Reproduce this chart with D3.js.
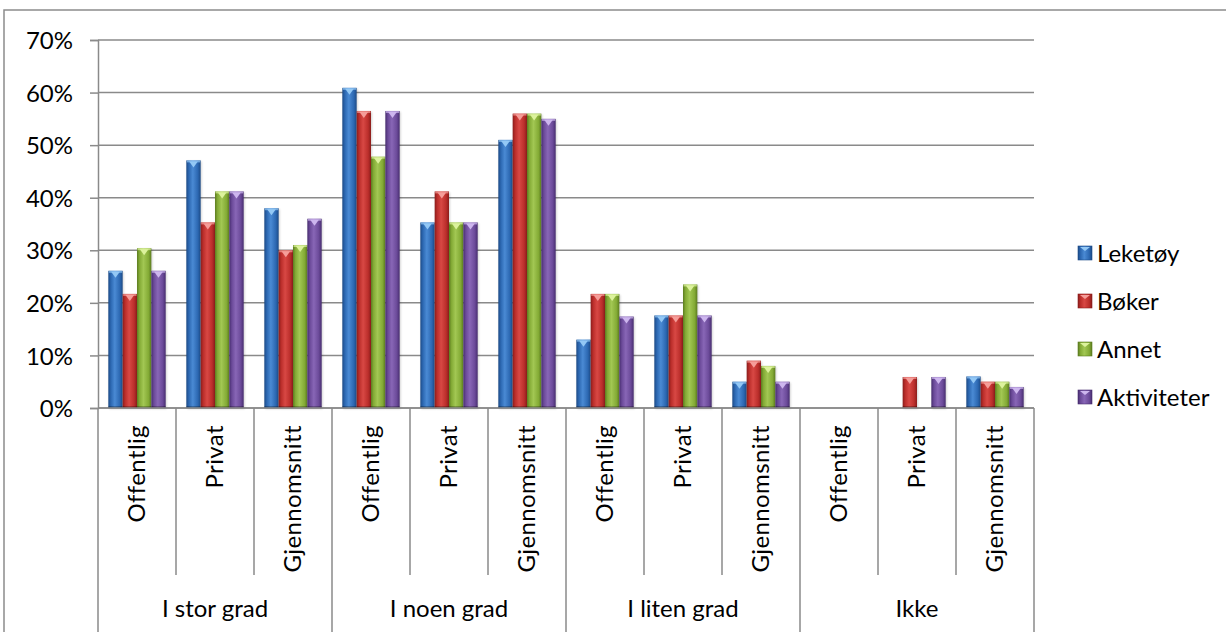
<!DOCTYPE html>
<html>
<head>
<meta charset="utf-8">
<script src="https://cdn.jsdelivr.net/npm/d3@7"></script>
<style>
  html, body { margin: 0; padding: 0; background: #fff; }
  svg { display: block; }
  text { font-family: Lato, "Open Sans", sans-serif; fill: #000; }
</style>
</head>
<body>
<svg id="chart" width="1226" height="632"></svg>
<script>
// Response groups and sub-categories
const groups = ["I stor grad", "I noen grad", "I liten grad", "Ikke"];
const subgroups = ["Offentlig", "Privat", "Gjennomsnitt"];
const seriesNames = ["Leketøy", "Bøker", "Annet", "Aktiviteter"];
const yTicks = [0, 0.1, 0.2, 0.3, 0.4, 0.5, 0.6, 0.7];

// Shares per series, in order: for each group, Offentlig / Privat / Gjennomsnitt
const leketoy     = [0.261, 0.471, 0.38,  0.609, 0.353, 0.51, 0.130, 0.176, 0.05, 0, 0,     0.06];
const boker       = [0.217, 0.353, 0.30,  0.565, 0.412, 0.56, 0.217, 0.176, 0.09, 0, 0.059, 0.05];
const annet       = [0.304, 0.412, 0.31,  0.478, 0.353, 0.56, 0.217, 0.235, 0.08, 0, 0,     0.05];
const aktiviteter = [0.261, 0.412, 0.36,  0.565, 0.353, 0.55, 0.174, 0.176, 0.05, 0, 0.059, 0.04];

const seriesValues = [leketoy, boker, annet, aktiviteter];
const seriesColors = [
  { dark: "#1c4a86", mid: "#2c68b2", light: "#4a8ad4", cap: "#93c8f5" },
  { dark: "#8a1d1b", mid: "#bb2e2b", light: "#d84844", cap: "#f59d99" },
  { dark: "#5c7c20", mid: "#84ab36", light: "#a2c753", cap: "#dcf29c" },
  { dark: "#472d6f", mid: "#6b4a99", light: "#8866b6", cap: "#cdb6ee" }
];

const categories = [];
groups.forEach(g => subgroups.forEach(s => categories.push(g + "|" + s)));

const svg = d3.select("#chart");
const defs = svg.append("defs");

const plot = { left: 98, right: 1034, top: 40, bottom: 408 };
const fontSize = "24px";

const x0 = d3.scaleBand().domain(categories).range([plot.left, plot.right]).paddingInner(0).paddingOuter(0);
const x1 = d3.scaleBand().domain(seriesNames).range([0, x0.bandwidth()]).paddingInner(0).paddingOuter(0.72);
const y = d3.scaleLinear().domain([0, 0.7]).range([plot.bottom, plot.top]);

// Outer chart frame
svg.append("rect")
  .attr("x", 4).attr("y", 10).attr("width", 1240).attr("height", 640)
  .attr("fill", "none").attr("stroke", "#8c8c8c").attr("stroke-width", 1.5);

// Gradients for the bevelled bars
seriesColors.forEach((c, i) => {
  const g = defs.append("linearGradient").attr("id", "grad" + i)
    .attr("x1", "0%").attr("x2", "100%").attr("y1", "0%").attr("y2", "0%");
  g.append("stop").attr("offset", "0%").attr("stop-color", c.dark);
  g.append("stop").attr("offset", "18%").attr("stop-color", c.mid);
  g.append("stop").attr("offset", "45%").attr("stop-color", c.light);
  g.append("stop").attr("offset", "80%").attr("stop-color", c.mid);
  g.append("stop").attr("offset", "100%").attr("stop-color", c.dark);
});
const shadow = defs.append("filter").attr("id", "soft").attr("x", "-50%").attr("y", "-50%").attr("width", "200%").attr("height", "200%");
shadow.append("feGaussianBlur").attr("stdDeviation", 1.2);

// Gridlines with outward ticks
const yAxis = d3.axisLeft(y).tickValues(yTicks).tickSize(8).tickFormat(d3.format(".0%"));
svg.append("g").attr("class", "grid")
  .selectAll("line").data(yTicks).join("line")
  .attr("x1", plot.left).attr("x2", plot.right)
  .attr("y1", d => y(d)).attr("y2", d => y(d))
  .attr("stroke", "#8a8a8a").attr("stroke-width", 1.5);

const yg = svg.append("g").attr("transform", `translate(${plot.left},0)`).call(yAxis);
yg.select(".domain").attr("stroke", "#8a8a8a").attr("stroke-width", 1.5);
yg.selectAll(".tick line").attr("stroke", "#8a8a8a").attr("stroke-width", 1.5);
yg.selectAll(".tick text")
  .attr("x", -25).attr("dy", "0.36em")
  .style("font-family", "Lato, 'Open Sans', sans-serif")
  .style("font-size", fontSize).attr("fill", "#000");

// Bars
const barData = [];
categories.forEach((cat, ci) => {
  seriesNames.forEach((s, si) => {
    barData.push({ cat, series: s, si, value: seriesValues[si][ci] });
  });
});

const bars = svg.append("g").attr("class", "bars")
  .selectAll("g").data(barData.filter(d => d.value > 0)).join("g")
  .attr("transform", d => `translate(${x0(d.cat) + x1(d.series)},0)`);

const bw = x1.bandwidth();

bars.append("rect")
  .attr("x", 1).attr("y", d => y(d.value) + 1)
  .attr("width", bw).attr("height", d => y(0) - y(d.value))
  .attr("fill", "#000").attr("opacity", 0.18).attr("filter", "url(#soft)");

bars.append("rect")
  .attr("x", 0).attr("y", d => y(d.value))
  .attr("width", bw).attr("height", d => y(0) - y(d.value))
  .attr("fill", d => `url(#grad${d.si})`);

// Top bevel: light rim and a small inverted triangle highlight
bars.append("rect")
  .attr("x", 0.5).attr("y", d => y(d.value))
  .attr("width", bw - 1).attr("height", 2)
  .attr("fill", d => seriesColors[d.si].cap).attr("opacity", 0.7);
bars.append("path")
  .attr("d", d => {
    const t = y(d.value) + 1;
    return `M${bw * 0.2},${t} L${bw * 0.8},${t} L${bw * 0.5},${t + 6} Z`;
  })
  .attr("fill", d => seriesColors[d.si].cap);

// Bottom bevel darkening
bars.append("rect")
  .attr("x", 0).attr("y", y(0) - 2)
  .attr("width", bw).attr("height", 2)
  .attr("fill", "#000").attr("opacity", 0.25);

// Category axis: separators and labels
const axisG = svg.append("g").attr("class", "x-axis");
const boundaries = d3.range(categories.length + 1).map(i => plot.left + i * x0.step());
axisG.selectAll("line.sep").data(boundaries).join("line")
  .attr("class", "sep")
  .attr("x1", d => d).attr("x2", d => d)
  .attr("y1", plot.bottom)
  .attr("y2", (d, i) => (i % subgroups.length === 0) ? 632 : 575)
  .attr("stroke", "#8a8a8a").attr("stroke-width", 1.5);
axisG.append("line")
  .attr("x1", plot.left).attr("x2", plot.right)
  .attr("y1", plot.bottom).attr("y2", plot.bottom)
  .attr("stroke", "#8a8a8a").attr("stroke-width", 1.5);

axisG.selectAll("text.sub").data(categories).join("text")
  .attr("class", "sub")
  .attr("transform", d => `translate(${x0(d) + x0.bandwidth() / 2 + 8},425) rotate(-90)`)
  .attr("text-anchor", "end")
  .style("font-size", fontSize)
  .style("letter-spacing", "0.4px")
  .text(d => d.split("|")[1]);

axisG.selectAll("text.grp").data(groups).join("text")
  .attr("class", "grp")
  .attr("x", (d, i) => plot.left + (i * subgroups.length + subgroups.length / 2) * x0.step())
  .attr("y", 617)
  .attr("text-anchor", "middle")
  .style("font-size", fontSize)
  .text(d => d);

// Legend
const legend = svg.append("g").attr("class", "legend")
  .selectAll("g").data(seriesNames).join("g")
  .attr("transform", (d, i) => `translate(1078,${253 + i * 48})`);
legend.append("rect")
  .attr("x", 0).attr("y", -7).attr("width", 14).attr("height", 14)
  .attr("fill", (d, i) => `url(#grad${i})`)
  .attr("stroke", (d, i) => seriesColors[i].dark).attr("stroke-width", 0.6);
legend.append("path")
  .attr("d", "M2,-6 L12,-6 L7,-2 Z")
  .attr("fill", (d, i) => seriesColors[i].cap);
legend.append("text")
  .attr("x", 19).attr("y", 0).attr("dy", "0.36em")
  .style("font-size", fontSize)
  .text(d => d);
</script>
</body>
</html>
